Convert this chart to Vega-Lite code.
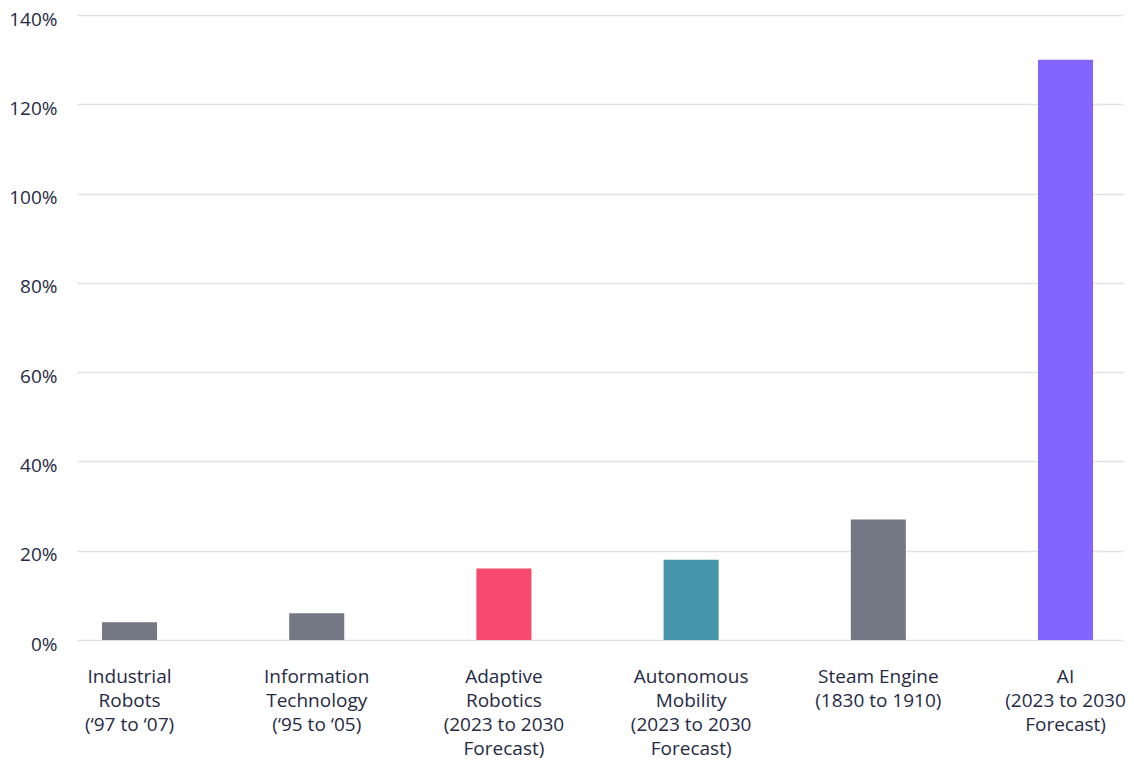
{
  "$schema": "https://vega.github.io/schema/vega-lite/v6.json",
  "autosize": "none",
  "width": 1046,
  "height": 625,
  "padding": {"left": 77, "top": 15, "right": 11, "bottom": 121},
  "background": "white",
  "config": {
    "font": "Open Sans",
    "view": {"stroke": null}
  },
  "data": {
    "values": [
      {"category": "Industrial|Robots|(‘97 to ‘07)", "value": 4},
      {"category": "Information|Technology|(‘95 to ‘05)", "value": 6},
      {"category": "Adaptive|Robotics|(2023 to 2030|Forecast)", "value": 16},
      {"category": "Autonomous|Mobility|(2023 to 2030|Forecast)", "value": 18},
      {"category": "Steam Engine|(1830 to 1910)", "value": 27},
      {"category": "AI|(2023 to 2030|Forecast)", "value": 130}
    ]
  },
  "mark": {"type": "bar"},
  "encoding": {
    "x": {
      "field": "category",
      "type": "nominal",
      "sort": null,
      "scale": {"paddingInner": 0.706, "paddingOuter": 0.1468, "align": 0.455},
      "axis": {
        "title": null,
        "labelAngle": 0,
        "labelExpr": "split(datum.value, '|')",
        "labelFont": "Open Sans",
        "labelFontSize": 19,
        "labelColor": "#262a45",
        "labelLineHeight": 24,
        "labelPadding": 27,
        "labelBaseline": "top",
        "domain": false,
        "ticks": false
      }
    },
    "y": {
      "field": "value",
      "type": "quantitative",
      "scale": {"domain": [0, 140], "nice": false},
      "axis": {
        "title": null,
        "values": [0, 20, 40, 60, 80, 100, 120, 140],
        "labelExpr": "datum.value + '%'",
        "labelFont": "Open Sans",
        "labelFontSize": 19,
        "labelColor": "#262a45",
        "labelPadding": 20,
        "labelOffset": 4,
        "domain": false,
        "ticks": false,
        "grid": true,
        "gridColor": "#e2e2e8",
        "gridWidth": 1.5
      }
    },
    "color": {
      "field": "category",
      "type": "nominal",
      "legend": null,
      "scale": {
        "domain": [
          "Industrial|Robots|(‘97 to ‘07)",
          "Information|Technology|(‘95 to ‘05)",
          "Adaptive|Robotics|(2023 to 2030|Forecast)",
          "Autonomous|Mobility|(2023 to 2030|Forecast)",
          "Steam Engine|(1830 to 1910)",
          "AI|(2023 to 2030|Forecast)"
        ],
        "range": ["#737884", "#737884", "#F8496F", "#4596AB", "#737884", "#8264FF"]
      }
    }
  }
}
